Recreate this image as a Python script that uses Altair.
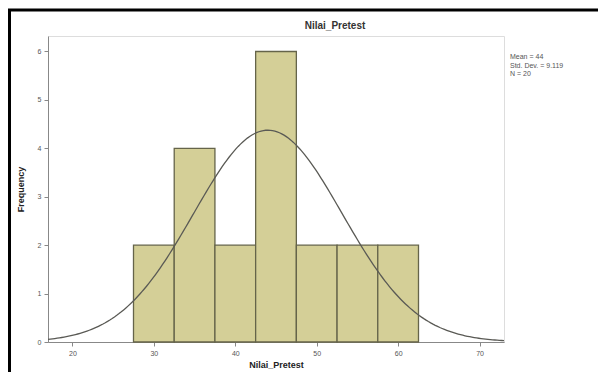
import altair as alt
import pandas as pd
import numpy as np

# Histogram bins (lower, upper) and frequencies
bin_lo = [27.5, 32.5, 37.5, 42.5, 47.5, 52.5, 57.5]
bin_hi = [32.5, 37.5, 42.5, 47.5, 52.5, 57.5, 62.5]
freq = [2, 4, 2, 6, 2, 2, 2]

# Summary statistics shown on the chart
mean_val = 44
std_val = 9.119
n_val = 20
stats_text = "Mean = 44\nStd. Dev. = 9.119\nN = 20"
title_text = "Nilai_Pretest"

x_ticks = [20, 30, 40, 50, 60, 70]
y_ticks = [0, 1, 2, 3, 4, 5, 6]
x_domain = [17, 73]
y_domain = [0, 6.32]

bars = pd.DataFrame({"lo": bin_lo, "hi": bin_hi, "f": freq})

# Fitted normal curve scaled to counts (N * bin width * pdf)
xs = np.linspace(x_domain[0], x_domain[1], 200)
binw = 5
ys = n_val * binw * np.exp(-0.5 * ((xs - mean_val) / std_val) ** 2) / (std_val * np.sqrt(2 * np.pi))
curve = pd.DataFrame({"x": xs, "y": ys})

one = pd.DataFrame({"k": [0]})

W, H = 456, 306

xscale = alt.Scale(domain=x_domain, nice=False, zero=False)
yscale = alt.Scale(domain=y_domain, nice=False)

xaxis = alt.Axis(values=x_ticks, title="Nilai_Pretest", grid=False, tickSize=4,
                 labelFontSize=7, labelColor="#555", domainColor="#888", tickColor="#888",
                 titleFontSize=9, titleFontWeight="bold", titleColor="#222", titlePadding=4,
                 labelPadding=3)
yaxis = alt.Axis(values=y_ticks, title="Frequency", grid=False, tickSize=4,
                 labelFontSize=7, labelColor="#555", domainColor="#888", tickColor="#888",
                 titleFontSize=9, titleFontWeight="bold", titleColor="#222", titlePadding=12,
                 labelPadding=3)

bar_layer = alt.Chart(bars).mark_rect(fill="#d4cf97", stroke="#65644a", strokeWidth=1.3).encode(
    x=alt.X("lo:Q", scale=xscale, axis=xaxis),
    x2="hi:Q",
    y=alt.Y("f:Q", scale=yscale, axis=yaxis),
    y2=alt.datum(0),
)

curve_layer = alt.Chart(curve).mark_line(color="#5a5a55", strokeWidth=1.3).encode(
    x=alt.X("x:Q", scale=xscale),
    y=alt.Y("y:Q", scale=yscale),
)

stats_layer = alt.Chart(one).mark_text(align="left", baseline="top", fontSize=7,
                                        color="#555", lineBreak="\n", lineHeight=8.5).encode(
    x=alt.value(W + 6),
    y=alt.value(17),
    text=alt.value(stats_text),
)

title_layer = alt.Chart(one).mark_text(align="center", baseline="middle", fontSize=10,
                                        fontWeight="bold", color="#333").encode(
    x=alt.value(W / 2 + 59),
    y=alt.value(-10),
    text=alt.value(title_text),
)

top_border = alt.Chart(one).mark_rule(color="black", strokeWidth=3).encode(
    x=alt.value(-48), x2=alt.value(W + 110), y=alt.value(-26)
)
left_border = alt.Chart(one).mark_rule(color="black", strokeWidth=3).encode(
    x=alt.value(-38.5), y=alt.value(-26), y2=alt.value(H + 40)
)

chart = alt.layer(bar_layer, curve_layer, stats_layer, title_layer, top_border, left_border).properties(
    width=W, height=H,
    padding={"left": 40, "top": 28, "right": 94, "bottom": 30},
    autosize=alt.AutoSizeParams(type="none"),
    background="white",
).configure_view(
    fill="#f0f0f0", stroke="#8c8c8c", strokeWidth=1.5
).configure(font="Liberation Sans")

chart.save("out.html", embed_options={"renderer": "svg", "actions": False})
